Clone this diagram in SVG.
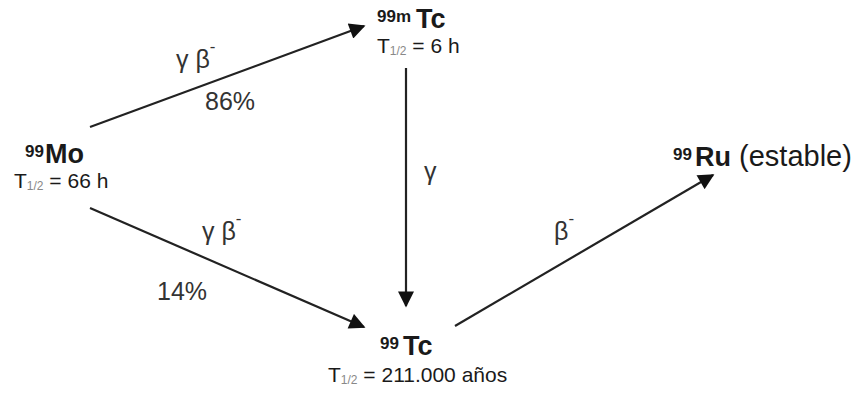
<svg xmlns="http://www.w3.org/2000/svg" width="866" height="394" viewBox="0 0 866 394">
<style>
text{font-family:"Liberation Sans",Arial,sans-serif;fill:#1a1a1a}
.n{font-size:27px;font-weight:bold}
.s{font-size:17px;font-weight:bold}
.t{font-size:21px}
.sub{font-size:12px;fill:#888}
.l{font-size:25px;fill:#333}
.m{font-size:17px}
.e{stroke:#222;stroke-width:2.2;fill:none;marker-end:url(#ah)}
</style>
<defs>
<marker id="ah" viewBox="0 0 10 10" refX="9" refY="5" markerWidth="18" markerHeight="16" orient="auto" markerUnits="userSpaceOnUse">
<path d="M0,0 L10,5 L0,10 Z" fill="#111"/>
</marker>
</defs>
<rect width="866" height="394" fill="#fff"/>
<g id="connectors">
<line x1="90" y1="127" x2="364" y2="26" class="e"/>
<line x1="90" y1="208" x2="364" y2="327" class="e"/>
<line x1="406" y1="68" x2="406" y2="306" class="e"/>
<line x1="455" y1="326" x2="713" y2="175" class="e"/>
</g>
<g id="labels">
<text class="l" x="176" y="68">γ β<tspan class="m" dy="-16">-</tspan></text>
<text class="l" x="205" y="110">86%</text>
<text class="l" x="202" y="240">γ β<tspan class="m" dy="-16">-</tspan></text>
<text class="l" x="157" y="300">14%</text>
<text class="l" x="424" y="180">γ</text>
<text class="l" x="554" y="240">β<tspan class="m" dy="-16">-</tspan></text>
</g>
<g id="mo99">
<text x="25" y="163"><tspan class="s" dy="-6">99</tspan><tspan class="n" dy="6" x="45">Mo</tspan></text>
<text class="t" x="14" y="188">T<tspan class="sub" dy="2">1/2</tspan><tspan dy="-2"> = 66 h</tspan></text>
</g>
<g id="tc99m">
<text x="377" y="28"><tspan class="s" dy="-6">99m</tspan><tspan class="n" dy="6" x="416">Tc</tspan></text>
<text class="t" x="377" y="53">T<tspan class="sub" dy="2">1/2</tspan><tspan dy="-2"> = 6 h</tspan></text>
</g>
<g id="tc99">
<text x="380" y="355"><tspan class="s" dy="-6">99</tspan><tspan class="n" dy="6" x="403">Tc</tspan></text>
<text class="t" x="328" y="382">T<tspan class="sub" dy="2">1/2</tspan><tspan dy="-2"> = 211.000 años</tspan></text>
</g>
<g id="ru99">
<text x="673" y="166"><tspan class="s" dy="-6">99</tspan><tspan class="n" dy="6" x="695">Ru</tspan><tspan font-size="29px"> (estable)</tspan></text>
</g>
</svg>
